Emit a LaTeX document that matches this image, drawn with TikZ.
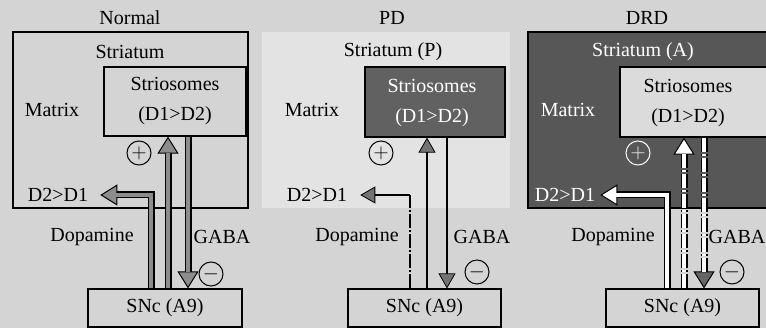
\documentclass[tikz,border=0pt]{standalone}
\usepackage{fontspec}
\setmainfont{Liberation Serif}
\usetikzlibrary{arrows.meta,calc,positioning}
\definecolor{paper}{gray}{0.83}
\tikzset{
  lbl/.style={font=\fontsize{20}{30}\selectfont,inner sep=0pt},
  region/.style={draw,line width=1.2pt,inner sep=0pt},
  sign/.style={circle,draw,line width=1pt,minimum size=24pt,inner sep=0pt,font=\fontsize{22}{22}\selectfont},
  fat/.style={line width=7pt,-{Triangle[length=17pt,width=21pt,line width=1pt,fill=#1]},
    postaction={draw=#1,line width=4.4pt,-,shorten >=16pt}},
  slim/.style={line width=1.3pt,-{Triangle[length=15pt,width=17pt,line width=0.8pt,fill=black!55]}},
  chain/.style={line width=1.3pt,dash pattern=on 14pt off 2pt on 2pt off 2pt},
  chainfat/.style={line width=7pt,dash pattern=on 14pt off 2pt on 2pt off 2pt,
    -{Triangle[length=17pt,width=21pt,line width=1pt,fill=#1]},
    postaction={draw=white,line width=4.4pt,-,shorten >=16pt,dash pattern=on 14pt off 2pt on 2pt off 2pt}},
}
\begin{document}
\begin{tikzpicture}[x=1pt,y=-1pt]
    \useasboundingbox (0,0) rectangle (766,328);
    \fill[paper] (0,0) rectangle (766,328);
    % Normal
    \begin{scope}
      \node[region,minimum width=235pt,minimum height=176pt] (strN) at (130.5,120) {};
      \node[lbl] (titN) at (130,18) {Normal};
      \node[lbl] (labN) at (130,52) {Striatum};
      \node[region,lbl,align=center,minimum width=142pt,minimum height=69pt] (sosN) at (175,101.5) {Striosomes\\(D1>D2)};
      \node[lbl] (matN) at (52,110) {Matrix};
      \node[lbl] (d21N) at (58,195) {D2>D1};
      \node[region,lbl,minimum width=154pt,minimum height=38pt] (sncN) at (165,308) {SNc (A9)};
      \node[lbl] (dopN) at (92,237) {Dopamine};
      \node[lbl] (gabN) at (222,237) {GABA};
      \node[sign] (plusN) at (139,153) {$+$};
      \node[sign] (minN) at (211,274) {$-$};
      \coordinate (dN) at (151,0);
      \coordinate (uN) at (168,0);
      \coordinate (gN) at (188,0);
      \draw[fat=black!45] (sncN.north -| dN) |- ([xshift=12pt]d21N.east);
      \draw[fat=black!45] (sncN.north -| uN) -- (sosN.south -| uN);
      \draw[fat=black!45] (sosN.south -| gN) -- (sncN.north -| gN);
    \end{scope}
    % PD
    \begin{scope}
      \fill[gray!22] (262,32) rectangle (510,208);
      \node[lbl] (titP) at (392,18) {PD};
      \node[lbl] (labP) at (393,52) {Striatum (P)};
      \node[region,fill=black!62,minimum width=140pt,minimum height=70pt] (sosP) at (435,102) {};
      \node[lbl,align=center,text=white] (txtP) at (432,103) {Striosomes\\(D1>D2)};
      \node[lbl] (matP) at (312,110) {Matrix};
      \node[lbl] (d21P) at (317,195) {D2>D1};
      \node[region,lbl,minimum width=153pt,minimum height=38pt] (sncP) at (424.5,308) {SNc (A9)};
      \node[lbl] (dopP) at (357,237) {Dopamine};
      \node[lbl] (gabP) at (482,237) {GABA};
      \node[sign] (plusP) at (381,153) {$+$};
      \node[sign] (minP) at (477,272) {$-$};
      \coordinate (dP) at (410,0);
      \coordinate (uP) at (427,0);
      \coordinate (gP) at (447,0);
      \draw[chain] (sncP.north -| dP) -- (dP |- d21P);
      \draw[slim] (dP |- d21P) -- ([xshift=13pt]d21P.east);
      \draw[slim] (sncP.north -| uP) -- (sosP.south -| uP);
      \draw[slim] (sosP.south -| gP) -- (sncP.north -| gP);
    \end{scope}
    % DRD
    \begin{scope}
      \node[region,fill=black!66,minimum width=248pt,minimum height=176pt] (strA) at (652,120) {};
      \node[lbl] (titA) at (647,18) {DRD};
      \node[lbl,text=white] (labA) at (643,52) {Striatum (A)};
      \node[region,fill=gray!28,minimum width=152pt,minimum height=70pt] (sosA) at (696,102) {};
      \node[lbl,align=center] (txtA) at (688,103) {Striosomes\\(D1>D2)};
      \node[lbl,text=white] (matA) at (568,110) {Matrix};
      \node[lbl,text=white] (d21A) at (565,195) {D2>D1};
      \node[region,lbl,minimum width=153pt,minimum height=38pt] (sncA) at (682.5,308) {SNc (A9)};
      \node[lbl] (dopA) at (613,237) {Dopamine};
      \node[lbl] (gabA) at (737,237) {GABA};
      \node[sign,draw=white,text=white] (plusA) at (638,153) {$+$};
      \node[sign] (minA) at (732,272) {$-$};
      \coordinate (dA) at (667,0);
      \coordinate (uA) at (684,0);
      \coordinate (gA) at (704,0);
      \draw[fat=white] (sncA.north -| dA) |- ([xshift=5pt]d21A.east);
      \draw[chainfat=white] (sncA.north -| uA) -- (sosA.south -| uA);
      \draw[chainfat=black!60] (sosA.south -| gA) -- (sncA.north -| gA);
    \end{scope}
  \end{tikzpicture}
\end{document}
